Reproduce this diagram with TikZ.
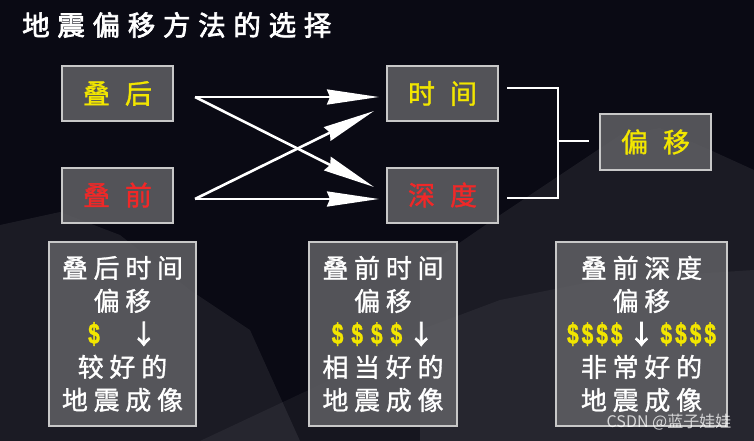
\documentclass[tikz,border=0pt]{standalone}
\usepackage{fontspec}
\usetikzlibrary{arrows.meta}
\newfontfamily\cjk{Noto Sans CJK SC}
\newfontfamily\cjkm{Noto Sans CJK SC}[FakeBold=1.2]
\newfontfamily\cjkt{Noto Sans CJK SC}[FakeBold=2.5,LetterSpace=28]
\newfontfamily\cjkb{Noto Sans CJK SC}[FakeBold=1.2,LetterSpace=22]
\newfontfamily\cjkarr{Noto Sans CJK SC}[FakeBold=3]
\newfontfamily\dolfont{Liberation Sans}[FakeBold=1.5]
\definecolor{bgc}{HTML}{0A0A14}
\definecolor{boxfill}{HTML}{606064}
\definecolor{boxline}{HTML}{C8C8C8}
\definecolor{dyellow}{HTML}{F2E600}
\definecolor{dred}{HTML}{F02828}
\newcommand\dl{{\dolfont\bfseries\fontsize{29}{30}\selectfont\color{dyellow}\scalebox{0.72}[1]{\$}}}
\newcommand\darr{{\cjkarr\color{white}↓}}
\tikzset{
  card/.style={draw=boxline, line width=2pt, fill=boxfill, fill opacity=0.85, text opacity=1, inner sep=0pt},
  topcard/.style={card, minimum width=111pt, minimum height=55pt, font=\cjkm\fontsize{27}{30}\selectfont},
  infocard/.style={card, minimum height=184pt, align=center, text=white, font=\cjkb\fontsize{26}{33}\selectfont},
  arr/.style={draw=white, line width=2.6pt, -{Stealth[length=52pt,width=15pt,inset=3pt]}},
  brk/.style={draw=white, line width=2.6pt},
}
\begin{document}
\begin{tikzpicture}[x=1pt,y=-1pt]
\fill[bgc] (0,0) rectangle (754,441);
\useasboundingbox (0,0) rectangle (754,441);
% faint mountains
\fill[white, opacity=0.07] (0,225) -- (60,212) -- (120,235) -- (190,290) -- (250,330) -- (300,441) -- (0,441) -- cycle;
\fill[white, opacity=0.07] (420,270) -- (500,215) -- (560,175) -- (620,135) -- (660,128) -- (710,150) -- (754,170) -- (754,441) -- (420,441) -- cycle;
\fill[white, opacity=0.05] (200,441) -- (330,380) -- (420,330) -- (500,300) -- (600,280) -- (754,270) -- (754,441) -- cycle;

% title
\node[anchor=west, inner sep=0pt, text=white, font=\cjkt\fontsize{27.5}{30}\selectfont] (title) at (22,25) {地震偏移方法的选择};

% top boxes
\node[topcard, text=dyellow] (hou) at (117.5,93.5) {叠\hspace{15pt}后};
\node[topcard, text=dred] (qian) at (117.5,195) {叠\hspace{15pt}前};
\node[topcard, text=dyellow] (sj) at (442.5,93.5) {时\hspace{15pt}间};
\node[topcard, text=dred] (sd) at (442.5,195) {深\hspace{15pt}度};
\node[topcard, text=dyellow] (py) at (655.5,142) {偏\hspace{15pt}移};

% arrows
\coordinate (a1) at (195,97);
\coordinate (a2) at (195,199);
\draw[arr] (a1) -- ([shift={(-7,3.5)}]sj.west);
\draw[arr] (a1) -- ([shift={(-12,-8)}]sd.west);
\draw[arr] (a2) -- ([shift={(-12,17.5)}]sj.west);
\draw[arr] (a2) -- ([shift={(-7,4)}]sd.west);

% bracket
\coordinate (k1) at (507,88);
\coordinate (k2) at (507,198);
\coordinate (kj) at (558,141);
\draw[brk] (k1) -- (558,88) -- (558,198) -- (k2);
\draw[brk] (kj) -- ([xshift=-10pt]py.west |- kj);

% info boxes
\node[infocard, minimum width=147pt] (b1) at (122.5,334)
  {叠后时间\\偏移\\\dl\hspace{31pt}\darr\\较好的\\地震成像};
\node[infocard, minimum width=148pt] (b2) at (383,334)
  {叠前时间\\偏移\\\dl\hspace{8pt}\dl\hspace{8pt}\dl\hspace{8pt}\dl\hspace{6pt}\darr\\相当好的\\地震成像};
\node[infocard, minimum width=171pt] (b3) at (641.5,334)
  {叠前深度\\偏移\\\dl\hspace{3pt}\dl\hspace{3pt}\dl\hspace{3pt}\dl\hspace{6pt}\darr\hspace{6pt}\dl\hspace{3pt}\dl\hspace{3pt}\dl\hspace{3pt}\dl\\非常好的\\地震成像};

% watermark
\node[text=white, text opacity=0.75, inner sep=0pt, font=\cjk\fontsize{16}{18}\selectfont] (wm) at (669,422) {CSDN @蓝子娃娃};
\end{tikzpicture}
\end{document}
